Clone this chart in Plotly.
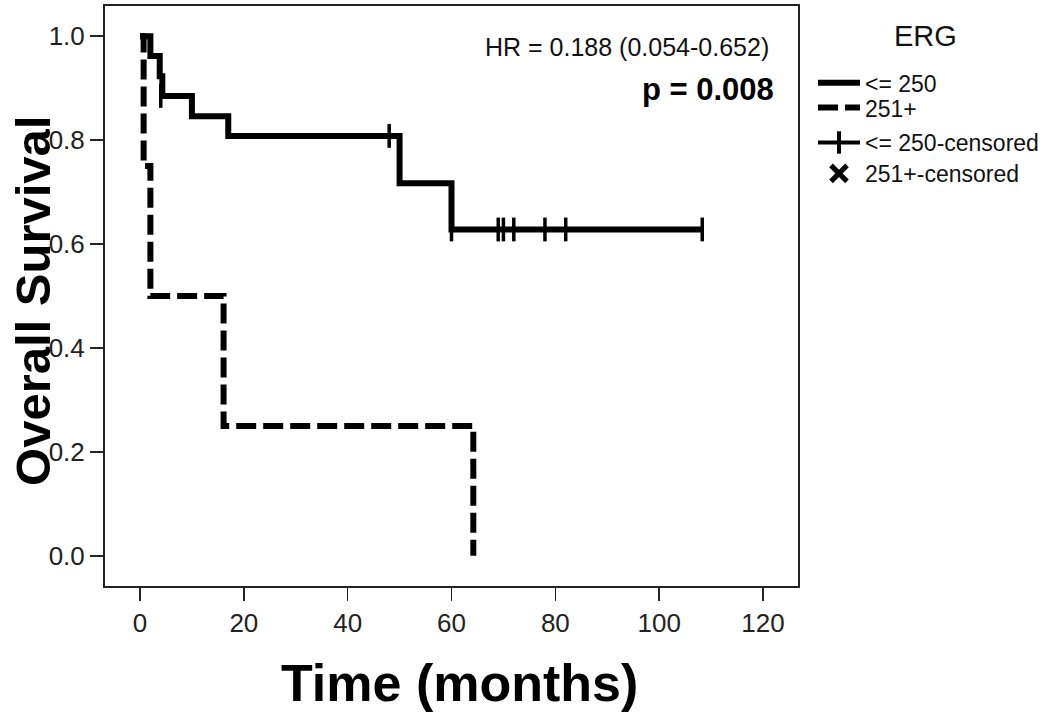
import plotly.graph_objects as go

# ---- data ----
# ERG <= 250 group: Kaplan-Meier step points (time in months, survival)
le250_time = [0, 2.0, 3.8, 4.3, 10.0, 17.0, 50.0, 60.0, 108.3]
le250_surv = [1.0, 0.962, 0.923, 0.885, 0.846, 0.808, 0.717, 0.628, 0.628]
# censored observations for ERG <= 250
le250_cens_time = [4.0, 48.0, 60.0, 69.0, 70.0, 72.0, 78.0, 82.0, 108.3]
le250_cens_surv = [0.885, 0.808, 0.628, 0.628, 0.628, 0.628, 0.628, 0.628, 0.628]
# ERG 251+ group
gt250_time = [0, 0.7, 2.0, 16.1, 64.2]
gt250_surv = [1.0, 0.75, 0.5, 0.25, 0.0]

x_ticks = [0, 20, 40, 60, 80, 100, 120]
y_ticks = [0.0, 0.2, 0.4, 0.6, 0.8, 1.0]
legend_labels = ["<= 250", "251+", "<= 250-censored", "251+-censored"]
hr_text = "HR = 0.188 (0.054-0.652)"
p_text = "p = 0.008"

W, H = 1050, 713
PX0, PX1, PY0, PY1 = 105, 798, 4, 586


def px(x):
    return (x - PX0) / (PX1 - PX0)


def py(y):
    return (PY1 - y) / (PY1 - PY0)


FONT = "Liberation Sans, Arial, sans-serif"

fig = go.Figure()

fig.add_trace(go.Scatter(
    x=le250_time, y=le250_surv, mode="lines", line_shape="hv",
    line=dict(color="black", width=6), name=legend_labels[0],
    legend="legend", showlegend=True))
fig.add_trace(go.Scatter(
    x=gt250_time, y=gt250_surv, mode="lines", line_shape="hv",
    line=dict(color="black", width=6, dash="20px,7px"), name=legend_labels[1],
    legend="legend2", showlegend=True))
fig.add_trace(go.Scatter(
    x=le250_cens_time, y=le250_cens_surv, mode="markers",
    marker=dict(symbol="line-ns", size=17, line=dict(color="black", width=3.5)),
    showlegend=False))
# legend-only entries for censoring symbols
fig.add_trace(go.Scatter(
    x=[None], y=[None], mode="lines+markers", name=legend_labels[2],
    line=dict(color="black", width=4),
    marker=dict(symbol="line-ns", size=20, line=dict(color="black", width=4)),
    legend="legend3", showlegend=True))
fig.add_trace(go.Scatter(
    x=[None], y=[None], mode="markers", name=legend_labels[3],
    marker=dict(symbol="x-thin", size=16, line=dict(color="black", width=5)),
    legend="legend4", showlegend=True))

axis_common = dict(
    showgrid=False, zeroline=False, showline=True, mirror=True,
    linecolor="#222", linewidth=2, ticks="outside", ticklen=13,
    tickwidth=1.5, tickcolor="#222",
    tickfont=dict(family=FONT, size=26, color="#222"))

fig.update_xaxes(range=[-6.74, 126.74], tickvals=x_ticks, **axis_common)
fig.update_yaxes(range=[-0.058, 1.058], tickvals=y_ticks, tickformat=".1f",
                 **axis_common)

leg_common = dict(
    xanchor="left", yanchor="middle", bgcolor="rgba(0,0,0,0)",
    font=dict(family=FONT, size=23, color="#111"), itemwidth=42,
    itemclick=False, itemdoubleclick=False)
leg_y = [81, 106, 141, 172]
fig.update_layout(
    legend=dict(x=px(813), y=py(leg_y[0]), **leg_common),
    legend2=dict(x=px(813), y=py(leg_y[1]), **leg_common),
    legend3=dict(x=px(813), y=py(leg_y[2]), **leg_common),
    legend4=dict(x=px(813), y=py(leg_y[3]), **leg_common),
)

annotations = [
    dict(text=hr_text, x=px(771), y=py(45), xanchor="right", yanchor="middle",
         font=dict(family=FONT, size=25, color="#111")),
    dict(text="<b>" + p_text + "</b>", x=px(776), y=py(88), xanchor="right",
         yanchor="middle", font=dict(family=FONT, size=31, color="black")),
    dict(text="<b>Time (months)</b>", x=px(459), y=py(683), xanchor="center",
         yanchor="middle", font=dict(family=FONT, size=52, color="black")),
    dict(text="<b>Overall Survival</b>", x=px(33), y=py(300), xanchor="center",
         yanchor="middle", textangle=-90,
         font=dict(family=FONT, size=49, color="black")),
    dict(text="ERG", x=px(925), y=py(34), xanchor="center", yanchor="middle",
         font=dict(family=FONT, size=29, color="#111")),
]
for a in annotations:
    a.update(xref="paper", yref="paper", showarrow=False)

fig.update_layout(
    width=W, height=H, autosize=False,
    margin=dict(l=PX0, r=W - PX1, t=PY0, b=H - PY1, pad=0),
    paper_bgcolor="white", plot_bgcolor="white",
    annotations=annotations, hovermode=False,
)

fig.write_html(
    "out.html",
    config={"displayModeBar": False, "staticPlot": True},
    post_script="document.body.style.margin='0px';document.body.style.overflow='hidden';")
